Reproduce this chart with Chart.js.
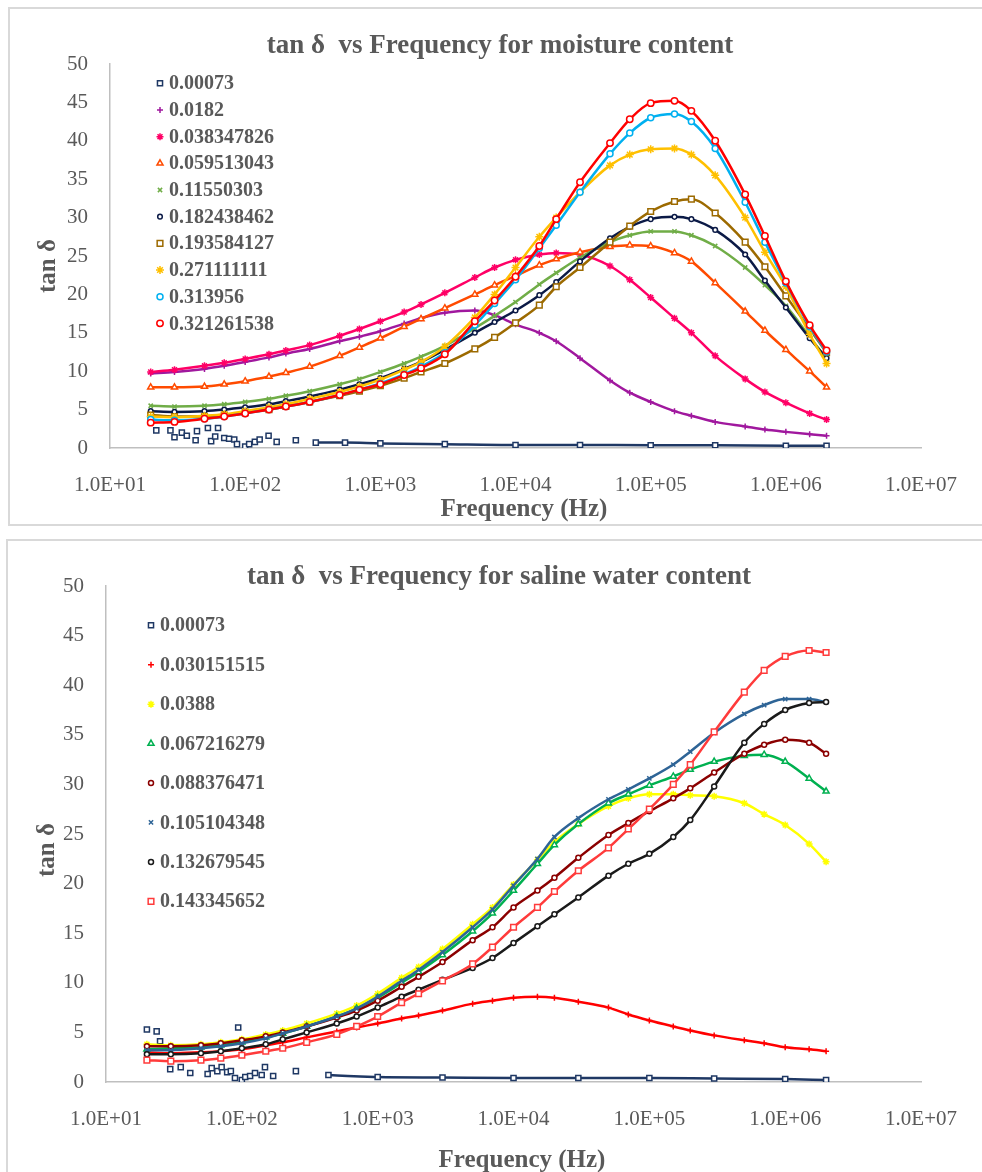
<!DOCTYPE html>
<html>
<head>
<meta charset="utf-8">
<script src="https://cdn.jsdelivr.net/npm/chart.js"></script>
<style>
  html, body { margin: 0; padding: 0; background: #fff; overflow: hidden; }
  body { width: 982px; height: 1172px; position: relative; }
  .frame { position: absolute; border: 2px solid #d9d9d9; box-sizing: border-box; }
  #frame1 { left: 8px; top: 7px; width: 1000px; height: 519px; }
  #frame2 { left: 6px; top: 539px; width: 1000px; height: 700px; }
  canvas { position: absolute; left: 0; }
  #c1 { top: 0; }
  #c2 { top: 532px; }
</style>
</head>
<body>
<div class="frame" id="frame1"></div>
<div class="frame" id="frame2"></div>
<canvas id="c1" width="982" height="530"></canvas>
<canvas id="c2" width="982" height="640"></canvas>
<script>
// frequency grid shared by the smooth curves (Hz)
const freq = [20, 30, 50, 70, 100, 150, 200, 300, 500, 700, 1000, 1500, 2000, 3000, 5000, 7000,
  10000, 15000, 20000, 30000, 50000, 70000, 100000, 150000, 200000, 300000, 500000, 700000,
  1000000, 1500000, 2000000];

const xTickValues = [1e1, 1e2, 1e3, 1e4, 1e5, 1e6, 1e7];
const xTickLabels = ['1.0E+01', '1.0E+02', '1.0E+03', '1.0E+04', '1.0E+05', '1.0E+06', '1.0E+07'];

// ---- tan d vs frequency, moisture content ----
const moistureLabels = ['0.00073', '0.0182', '0.038347826', '0.059513043', '0.11550303',
  '0.182438462', '0.193584127', '0.271111111', '0.313956', '0.321261538'];

// the dry sample is noisy at low frequency, so it has its own points
const dryFreqM = [22, 28, 30, 34, 37, 43, 44, 53, 56, 60, 63, 70, 76, 83, 87, 100, 107, 118, 128,
  149, 171, 237, 333, 548, 1000, 3000, 10000, 30000, 100000, 300000, 1000000, 2000000];
const dryTanM = [2.3, 2.3, 1.4, 2.0, 1.6, 1.0, 2.2, 2.6, 0.9, 1.5, 2.6, 1.3, 1.2, 1.1, 0.5, 0.2, 0.5,
  0.8, 1.1, 1.6, 0.8, 1.0, 0.7, 0.7, 0.6, 0.5, 0.4, 0.4, 0.35, 0.35, 0.3, 0.3];

const tanM0182 = [9.7, 9.9, 10.3, 10.7, 11.2, 11.8, 12.3, 12.9, 13.9, 14.5, 15.2, 16.2, 16.9, 17.6,
  17.9, 17.3, 16.1, 15.0, 13.9, 11.7, 8.8, 7.2, 6.0, 4.8, 4.2, 3.4, 2.8, 2.4, 2.1, 1.8, 1.6];
const tanM0383 = [9.9, 10.2, 10.7, 11.1, 11.6, 12.2, 12.7, 13.4, 14.6, 15.5, 16.5, 17.7, 18.7, 20.2,
  22.2, 23.5, 24.5, 25.2, 25.4, 25.2, 23.7, 21.9, 19.6, 16.9, 15.0, 12.0, 9.0, 7.3, 5.9, 4.5, 3.7];
const tanM0595 = [7.9, 7.9, 8.0, 8.3, 8.7, 9.3, 9.8, 10.6, 12.0, 13.1, 14.3, 15.8, 16.8, 18.2,
  20.0, 21.2, 22.4, 23.8, 24.6, 25.5, 26.2, 26.4, 26.3, 25.4, 24.3, 21.5, 17.8, 15.3, 12.8, 10.0, 7.9];
const tanM1155 = [5.5, 5.4, 5.5, 5.7, 6.0, 6.4, 6.8, 7.4, 8.3, 9.0, 9.9, 11.0, 11.9, 13.3,
  15.6, 17.2, 19.0, 21.3, 22.8, 24.8, 26.8, 27.7, 28.2, 28.2, 27.7, 26.3, 23.5, 21.2, 18.5, 14.5, 11.6];
const tanM1824 = [4.8, 4.7, 4.8, 5.0, 5.3, 5.7, 6.1, 6.7, 7.6, 8.3, 9.1, 10.3, 11.2, 12.8,
  15.0, 16.4, 17.9, 19.9, 21.6, 24.3, 27.3, 28.8, 29.8, 30.1, 29.8, 28.4, 25.2, 21.8, 18.3, 14.3, 11.7];
const tanM1936 = [4.3, 4.1, 4.1, 4.3, 4.6, 5.0, 5.4, 6.0, 6.8, 7.4, 8.1, 9.1, 9.9, 11.0,
  12.9, 14.4, 16.3, 18.6, 21.0, 23.5, 26.8, 28.9, 30.8, 32.1, 32.4, 30.6, 26.8, 23.6, 19.8, 15.5, 12.4];
const tanM2711 = [4.1, 4.0, 4.2, 4.4, 4.8, 5.3, 5.7, 6.4, 7.3, 8.0, 8.9, 10.2, 11.2, 13.2,
  17.0, 20.0, 23.5, 27.5, 30.0, 33.3, 36.8, 38.2, 38.9, 39.0, 38.2, 35.5, 30.0, 25.5, 21.0, 14.8, 11.0];
const tanM3140 = [3.7, 3.6, 3.8, 4.1, 4.5, 5.0, 5.4, 6.0, 6.9, 7.6, 8.4, 9.6, 10.6, 12.4,
  16.0, 18.8, 21.9, 26.0, 29.0, 33.3, 38.3, 41.0, 43.0, 43.5, 42.5, 39.0, 32.0, 26.8, 21.5, 15.8, 12.5];
const tanM3213 = [3.3, 3.4, 3.8, 4.1, 4.5, 5.0, 5.4, 6.0, 6.9, 7.6, 8.3, 9.5, 10.4, 12.2,
  16.5, 19.2, 22.3, 26.3, 29.8, 34.6, 39.7, 42.8, 44.9, 45.2, 43.9, 40.0, 33.0, 27.6, 21.7, 16.0, 12.7];

// ---- tan d vs frequency, saline water content ----
const salineLabels = ['0.00073', '0.030151515', '0.0388', '0.067216279', '0.088376471',
  '0.105104348', '0.132679545', '0.143345652'];

const dryFreqS = [20, 23.6, 25, 29.7, 35.5, 41.7, 56, 60, 66, 71, 78, 83, 89, 94, 100, 106, 115, 125,
  140, 148, 170, 250, 434, 1000, 3000, 10000, 30000, 100000, 300000, 1000000, 2000000];
const dryTanS = [5.3, 5.1, 4.1, 1.3, 1.5, 0.9, 0.8, 1.4, 1.1, 1.5, 1.0, 1.1, 0.4, 5.5, 0.2, 0.5, 0.6,
  0.9, 0.7, 1.5, 0.6, 1.1, 0.7, 0.5, 0.45, 0.4, 0.4, 0.4, 0.35, 0.3, 0.2];

const tanS0302 = [3.0, 2.9, 3.0, 3.1, 3.3, 3.7, 4.0, 4.5, 5.1, 5.5, 5.9, 6.4, 6.7, 7.2,
  7.9, 8.2, 8.5, 8.6, 8.5, 8.1, 7.5, 6.8, 6.2, 5.6, 5.2, 4.7, 4.2, 3.9, 3.5, 3.3, 3.1];
const tanS0388 = [3.8, 3.7, 3.8, 4.0, 4.3, 4.8, 5.2, 5.9, 6.9, 7.7, 8.9, 10.5, 11.6, 13.4,
  15.9, 17.6, 19.9, 22.4, 24.2, 26.0, 27.8, 28.6, 29.0, 29.0, 28.9, 28.8, 28.1, 27.0, 25.9, 24.0, 22.2];
const tanS0672 = [3.3, 3.4, 3.5, 3.7, 4.0, 4.5, 4.9, 5.6, 6.6, 7.4, 8.5, 10.0, 11.1, 12.8,
  15.2, 17.0, 19.3, 22.0, 23.9, 26.0, 28.1, 29.0, 29.9, 30.8, 31.5, 32.3, 32.9, 33.0, 32.3, 30.6, 29.3];
const tanS0884 = [3.6, 3.6, 3.7, 3.9, 4.2, 4.6, 5.0, 5.6, 6.5, 7.2, 8.2, 9.6, 10.6, 12.1,
  14.3, 15.6, 17.6, 19.3, 20.6, 22.6, 24.9, 26.1, 27.3, 28.6, 29.6, 31.2, 33.1, 34.0, 34.5, 34.2, 33.1];
const tanS1051 = [3.2, 3.2, 3.4, 3.6, 3.9, 4.4, 4.9, 5.6, 6.6, 7.4, 8.6, 10.2, 11.3, 13.1,
  15.6, 17.4, 19.8, 22.5, 24.7, 26.6, 28.5, 29.5, 30.6, 32.0, 33.3, 35.2, 37.1, 38.0, 38.6, 38.6, 38.3];
const tanS1327 = [2.8, 2.8, 2.9, 3.1, 3.4, 3.8, 4.3, 5.0, 5.9, 6.6, 7.5, 8.6, 9.3, 10.3,
  11.5, 12.5, 14.0, 15.7, 16.9, 18.6, 20.8, 22.0, 23.0, 24.7, 26.4, 29.8, 34.2, 36.1, 37.5, 38.2, 38.3];
const tanS1433 = [2.2, 2.1, 2.2, 2.4, 2.7, 3.1, 3.4, 4.0, 4.8, 5.6, 6.6, 8.0, 8.9, 10.2,
  11.9, 13.6, 15.6, 17.6, 19.2, 21.3, 23.6, 25.5, 27.5, 30.0, 32.0, 35.3, 39.3, 41.5, 42.9, 43.5, 43.3];

// marker look of each series (excel style)
const moistureStyle = [
  ['#1f3864', 'rect', 3.6], ['#a0189e', 'cross', 3], ['#ff0066', 'star', 3.5],
  ['#ff4b00', 'triangle', 3.5], ['#70ad47', 'crossRot', 3], ['#0b1a46', 'circle', 2.3],
  ['#9c6a00', 'rect', 4], ['#ffc000', 'star', 4], ['#00b0f0', 'circle', 3], ['#ff0000', 'circle', 3.2]
];
const salineStyle = [
  ['#1f3864', 'rect', 3.6], ['#ff0000', 'cross', 3], ['#ffff00', 'star', 3.5],
  ['#00b050', 'triangle', 3.5], ['#8b0000', 'circle', 2.5], ['#2e6496', 'crossRot', 3],
  ['#1a1a1a', 'circle', 2.5], ['#ff3b3b', 'rect', 4]
];

const serif = '"Liberation Serif", "Times New Roman", serif';

function makeSet(label, xs, ys, style, i, dry) {
  const [color, marker, size] = style;
  const hollow = marker == 'circle' || marker == 'rect' || marker == 'triangle';
  const ds = {
    label: label,
    data: xs.map((x, k) => ({ x: x, y: ys[k] })),
    showLine: true,
    borderColor: color,
    borderWidth: 2.5,
    cubicInterpolationMode: 'monotone',
    pointStyle: marker,
    pointRadius: size,
    pointBorderWidth: 1.5,
    pointBorderColor: color,
    pointBackgroundColor: hollow ? '#ffffff' : color,
    order: -i
  };
  // no line through the scattered low frequency points of the dry sample
  if (dry) ds.segment = { borderColor: c => c.p0.parsed.x < 300 ? 'rgba(0,0,0,0)' : color };
  return ds;
}

// titles and the legend that sits inside the plot
const overlayText = {
  id: 'overlayText',
  afterDraw(chart, args, o) {
    const ctx = chart.ctx;
    ctx.save();
    ctx.fillStyle = '#595959';
    ctx.textAlign = 'center';
    ctx.textBaseline = 'alphabetic';
    ctx.font = 'bold 27px ' + serif;
    ctx.fillText(o.title, o.titleX, o.titleY);
    ctx.font = 'bold 25px ' + serif;
    ctx.fillText('Frequency (Hz)', o.xTitleX, o.xTitleY);
    ctx.save();
    ctx.translate(o.yTitleX, o.yTitleY);
    ctx.rotate(-Math.PI / 2);
    ctx.fillText('tan δ', 0, 0);
    ctx.restore();

    ctx.font = 'bold 20px ' + serif;
    ctx.textAlign = 'left';
    ctx.textBaseline = 'middle';
    chart.data.datasets.forEach((ds, i) => {
      const y = o.legendY + i * o.legendStep;
      ctx.strokeStyle = ds.pointBorderColor;
      ctx.fillStyle = ds.pointBackgroundColor;
      ctx.lineWidth = ds.pointBorderWidth;
      Chart.helpers.drawPoint(ctx, { pointStyle: ds.pointStyle, radius: ds.pointRadius, rotation: 0,
        borderWidth: ds.pointBorderWidth }, o.legendX, y);
      ctx.fillStyle = '#595959';
      ctx.fillText(ds.label, o.legendX + 9, y + 1);
    });
    ctx.restore();
  }
};

function drawChart(id, datasets, pad, text) {
  return new Chart(document.getElementById(id), {
    type: 'scatter',
    data: { datasets: datasets },
    plugins: [overlayText],
    options: {
      responsive: false,
      animation: false,
      devicePixelRatio: 1,
      layout: { padding: pad },
      plugins: {
        legend: { display: false },
        title: { display: false },
        tooltip: { enabled: false },
        overlayText: text
      },
      scales: {
        x: {
          type: 'logarithmic',
          min: 10,
          max: 1e7,
          grid: { display: false, drawTicks: false },
          border: { color: '#bfbfbf', width: 1.5 },
          afterBuildTicks: s => { s.ticks = xTickValues.map(v => ({ value: v })); },
          afterFit: s => { s.height = 52; },
          ticks: {
            autoSkip: false, maxRotation: 0, minRotation: 0, padding: 25, color: '#595959',
            font: { family: serif, size: 21 },
            callback: (v, i) => xTickLabels[i]
          }
        },
        y: {
          min: 0,
          max: 50,
          grid: { display: false, drawTicks: false },
          border: { color: '#bfbfbf', width: 1.5 },
          afterFit: s => { s.width = 60; },
          ticks: { stepSize: 5, padding: 22, color: '#595959', font: { family: serif, size: 21 } }
        }
      }
    }
  });
}

const moistureSeries = [tanM0182, tanM0383, tanM0595, tanM1155, tanM1824, tanM1936, tanM2711, tanM3140, tanM3213];
const moistureSets = [makeSet(moistureLabels[0], dryFreqM, dryTanM, moistureStyle[0], 0, true)];
moistureSeries.forEach((vals, k) => {
  moistureSets.push(makeSet(moistureLabels[k + 1], freq, vals, moistureStyle[k + 1], k + 1, false));
});

const salineSeries = [tanS0302, tanS0388, tanS0672, tanS0884, tanS1051, tanS1327, tanS1433];
const salineSets = [makeSet(salineLabels[0], dryFreqS, dryTanS, salineStyle[0], 0, true)];
salineSeries.forEach((vals, k) => {
  salineSets.push(makeSet(salineLabels[k + 1], freq, vals, salineStyle[k + 1], k + 1, false));
});

drawChart('c1', moistureSets, { left: 50, right: 44, top: 64, bottom: 30 }, {
  title: 'tan δ  vs Frequency for moisture content',
  titleX: 500, titleY: 53, xTitleX: 524, xTitleY: 516, yTitleX: 55, yTitleY: 266,
  legendX: 160, legendY: 83.3, legendStep: 26.67
});

drawChart('c2', salineSets, { left: 46, right: 43, top: 54, bottom: 38 }, {
  title: 'tan δ  vs Frequency for saline water content',
  titleX: 499, titleY: 52, xTitleX: 522, xTitleY: 635, yTitleX: 53.5, yTitleY: 318,
  legendX: 151, legendY: 93.3, legendStep: 39.43
});
</script>
</body>
</html>
